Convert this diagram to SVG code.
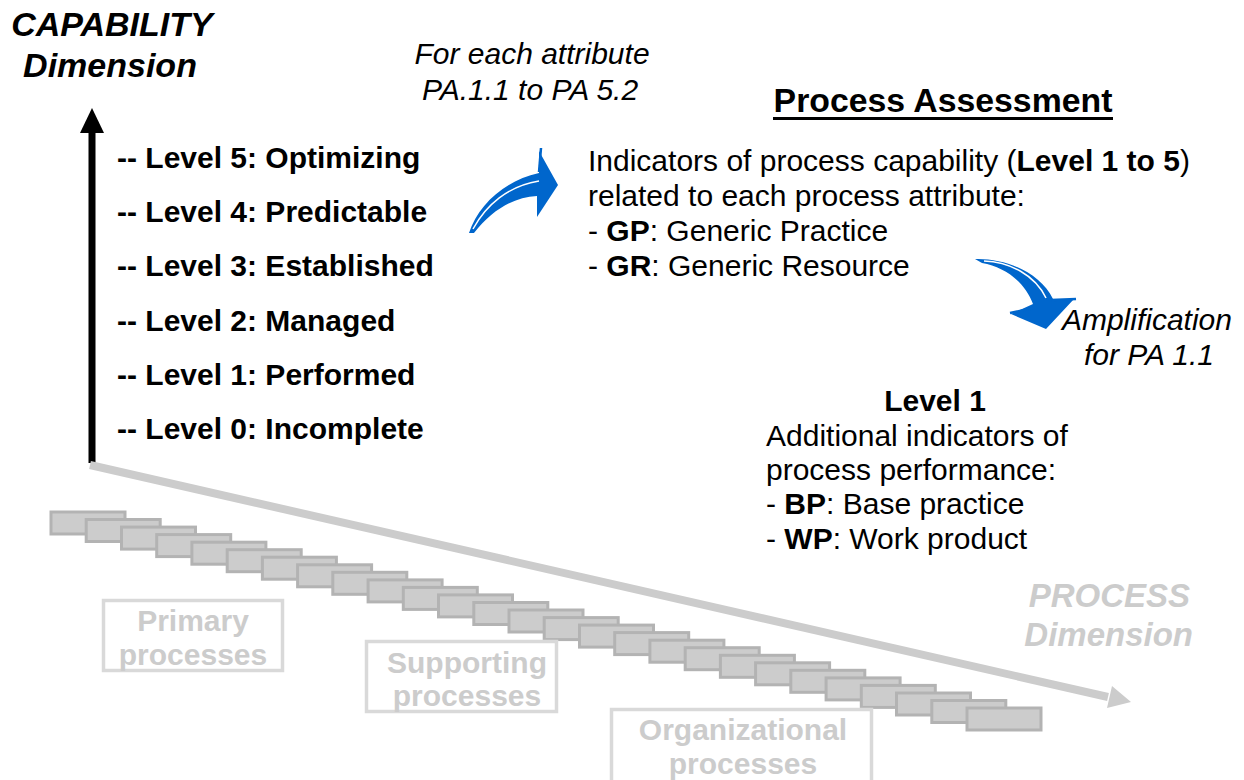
<svg xmlns="http://www.w3.org/2000/svg" width="1244" height="780" viewBox="0 0 1244 780">
<style>
text{font-family:"Liberation Sans",Arial,sans-serif;font-size:30px;fill:#000}
.b{font-weight:bold}
.i{font-style:italic}
.g{fill:#cccccc}
.pbox{fill:#fff;stroke:#d9d9d9;stroke-width:3.5}
.step{fill:#cccccc;stroke:#b3b3b3;stroke-width:3}
.blue{fill:#0066cc}
</style>
<defs>
<rect id="st" class="step" width="74" height="22"/>
</defs>
<rect width="1244" height="780" fill="#fff"/>

<g id="title-capability">
<text class="b i" x="112" y="36" text-anchor="middle" style="font-size:34px">CAPABILITY</text>
<text class="b i" x="110" y="77" text-anchor="middle" style="font-size:34px">Dimension</text>
</g>

<g id="connectors">
<line x1="92" y1="463" x2="92" y2="128" stroke="#000" stroke-width="7"/>
<polygon points="92,108 80,133 104,133" fill="#000"/>
<line x1="90" y1="465" x2="1108" y2="697" stroke="#cccccc" stroke-width="8"/>
<polygon points="1131,702 1107,708 1112,686" fill="#cccccc"/>
<g id="blue-arrow-1">
<path class="blue" d="M469,233 C478,206 503,181 539,173 L539,151 L558,185 L537,217 L537,196 C514,197 492,210 474,233 Z"/>
<path d="M473,229 C486,205 508,186 539,181" fill="none" stroke="#fff" stroke-width="1.5"/>
<line x1="541" y1="148" x2="539" y2="172" stroke="#0066cc" stroke-width="2.5"/>
</g>
<g id="blue-arrow-2">
<path class="blue" d="M975,259 C1005,258 1040,272 1053,299 L1074,299 L1046,329 L1011,314 L1033,304 C1025,282 1005,267 982,263 Z"/>
<path d="M984,261 C1010,262 1035,275 1046,298" fill="none" stroke="#fff" stroke-width="1.5"/>
<line x1="1010" y1="313" x2="1034" y2="308" stroke="#0066cc" stroke-width="2.5"/>
<line x1="1051" y1="300" x2="1076" y2="299" stroke="#0066cc" stroke-width="2.5"/>
</g>
</g>

<g id="staircase">
<use href="#st" x="51" y="512"/>
<use href="#st" x="86.2" y="519.5"/>
<use href="#st" x="121.5" y="527.1"/>
<use href="#st" x="156.7" y="534.6"/>
<use href="#st" x="191.9" y="542.2"/>
<use href="#st" x="227.2" y="549.7"/>
<use href="#st" x="262.4" y="557.2"/>
<use href="#st" x="297.6" y="564.8"/>
<use href="#st" x="332.8" y="572.3"/>
<use href="#st" x="368.1" y="579.9"/>
<use href="#st" x="403.3" y="587.4"/>
<use href="#st" x="438.5" y="594.9"/>
<use href="#st" x="473.8" y="602.5"/>
<use href="#st" x="509" y="610"/>
<use href="#st" x="544.2" y="617.6"/>
<use href="#st" x="579.5" y="625.1"/>
<use href="#st" x="614.7" y="632.6"/>
<use href="#st" x="649.9" y="640.2"/>
<use href="#st" x="685.2" y="647.7"/>
<use href="#st" x="720.4" y="655.3"/>
<use href="#st" x="755.6" y="662.8"/>
<use href="#st" x="790.8" y="670.3"/>
<use href="#st" x="826.1" y="677.9"/>
<use href="#st" x="861.3" y="685.4"/>
<use href="#st" x="896.5" y="693"/>
<use href="#st" x="931.8" y="700.5"/>
<use href="#st" x="967" y="708"/>
</g>

<g id="levels">
<text class="b" x="117" y="168">-- Level 5: Optimizing</text>
<text class="b" x="117" y="222">-- Level 4: Predictable</text>
<text class="b" x="117" y="276">-- Level 3: Established</text>
<text class="b" x="117" y="331">-- Level 2: Managed</text>
<text class="b" x="117" y="385">-- Level 1: Performed</text>
<text class="b" x="117" y="439">-- Level 0: Incomplete</text>
</g>

<g id="attribute-note">
<text class="i" x="532" y="64" text-anchor="middle">For each attribute</text>
<text class="i" x="530" y="100" text-anchor="middle">PA.1.1 to PA 5.2</text>
</g>

<g id="process-assessment">
<text class="b" x="943" y="112" text-anchor="middle" style="font-size:33.8px">Process Assessment</text>
<rect x="773" y="117" width="340" height="3" fill="#000"/>
<text x="588" y="171">Indicators of process capability (<tspan class="b">Level 1 to 5</tspan>)</text>
<text x="588" y="206">related to each process attribute:</text>
<text x="588" y="241">- <tspan class="b">GP</tspan>: Generic Practice</text>
<text x="588" y="276">- <tspan class="b">GR</tspan>: Generic Resource</text>
</g>

<g id="amplification">
<text class="i" x="1232" y="330" text-anchor="end">Amplification</text>
<text class="i" x="1214" y="365" text-anchor="end">for PA 1.1</text>
</g>

<g id="level1">
<text class="b" x="935" y="411" text-anchor="middle">Level 1</text>
<text x="766" y="446">Additional indicators of</text>
<text x="766" y="480">process performance:</text>
<text x="766" y="514">- <tspan class="b">BP</tspan>: Base practice</text>
<text x="766" y="549">- <tspan class="b">WP</tspan>: Work product</text>
</g>

<g id="process-dimension">
<text class="b i g" x="1190" y="607" text-anchor="end" style="font-size:33px">PROCESS</text>
<text class="b i g" x="1193" y="646" text-anchor="end" style="font-size:33px">Dimension</text>
</g>

<g id="primary">
<rect class="pbox" x="103.5" y="600.5" width="179" height="70"/>
<text class="b g" x="193" y="631" text-anchor="middle">Primary</text>
<text class="b g" x="193" y="665" text-anchor="middle">processes</text>
</g>
<g id="supporting">
<rect class="pbox" x="366.5" y="641.5" width="190" height="70"/>
<text class="b g" x="467" y="673" text-anchor="middle">Supporting</text>
<text class="b g" x="467" y="706" text-anchor="middle">processes</text>
</g>
<g id="organizational">
<rect class="pbox" x="611.5" y="709.5" width="260" height="80"/>
<text class="b g" x="743" y="740" text-anchor="middle">Organizational</text>
<text class="b g" x="743" y="774" text-anchor="middle">processes</text>
</g>
</svg>
